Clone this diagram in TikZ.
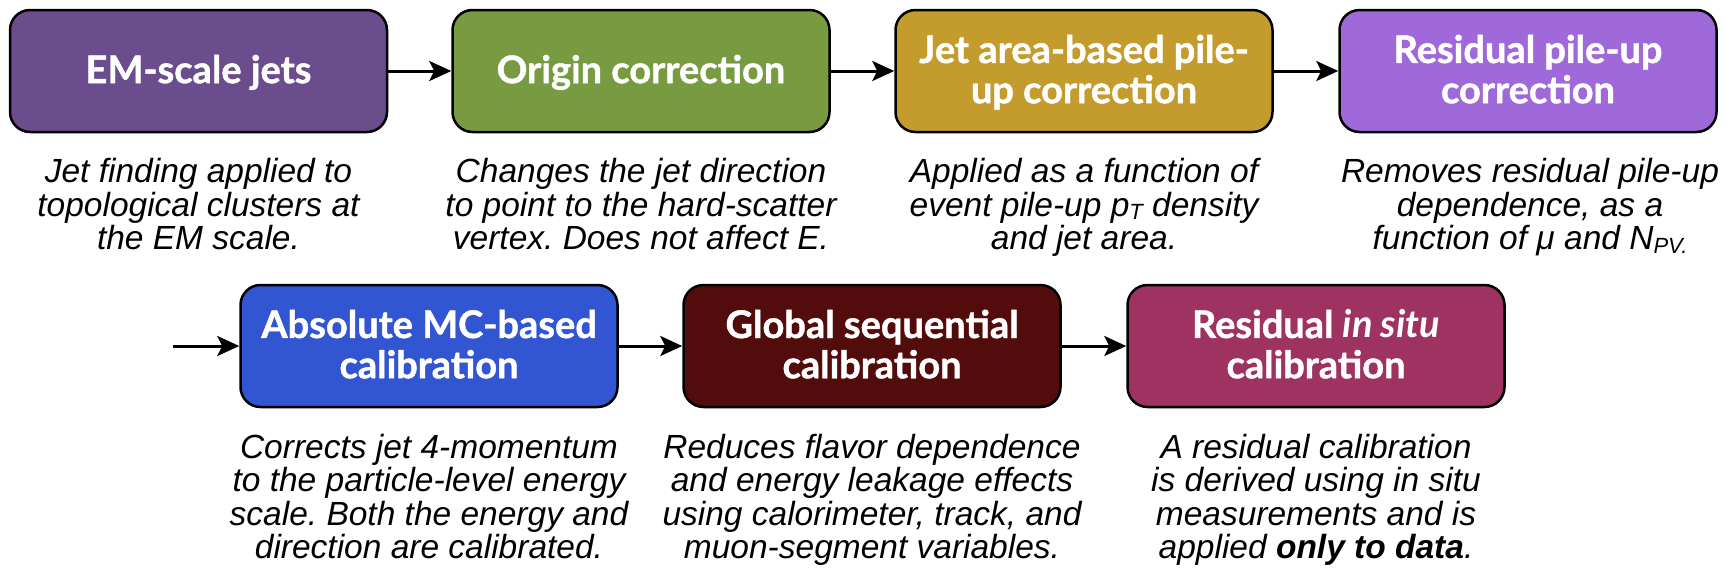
\documentclass[tikz,border=0pt]{standalone}
\usepackage{fontspec}
\setmainfont{Liberation Sans}
\newfontfamily\titlefont{Lato}[BoldFeatures={FakeBold=1.2}]
\usetikzlibrary{arrows.meta}
\definecolor{emcol}{RGB}{107,76,140}
\definecolor{origcol}{RGB}{120,155,65}
\definecolor{jetcol}{RGB}{196,155,45}
\definecolor{respucol}{RGB}{160,105,218}
\definecolor{abscol}{RGB}{50,85,210}
\definecolor{globcol}{RGB}{82,12,12}
\definecolor{insitucol}{RGB}{158,50,96}
\newcommand\ttl[1]{\raisebox{-4pt}[\height][\depth]{\begin{tabular}{@{}c@{}}#1\end{tabular}}}
\newcommand\lowsub[1]{\raisebox{-3.5pt}[0pt][0pt]{\fontsize{22}{22}\selectfont #1}}
\begin{document}
\frenchspacing
\begin{tikzpicture}[x=1pt,y=-1pt,
  stage/.style={draw=black, line width=2.5pt, rounded corners=20pt,
    minimum width=377pt, minimum height=122pt, inner sep=0pt,
    text=white, font=\titlefont\bfseries\fontsize{38}{40}\selectfont},
  desc/.style={anchor=north, inner sep=0pt, align=center,
    font=\itshape\fontsize{33.5}{33.5}\selectfont},
  flow/.style={line width=3pt, -{Stealth[length=22pt,width=20pt,inset=5pt]}}]
\useasboundingbox (0,0) rectangle (1726,573);
% row 1
\node[stage, fill=emcol]    (em)   at (198.5,71) {\ttl{EM-scale jets}};
\node[stage, fill=origcol]  (orig) at (641,71)   {\ttl{Origin correction}};
\node[stage, fill=jetcol]   (jet)  at (1084,71)  {\ttl{Jet area-based pile-\\up correction}};
\node[stage, fill=respucol] (respu) at (1528,71) {\ttl{Residual pile-up\\correction}};
% row 2
\node[stage, fill=abscol]    (abs)  at (429,346)  {\ttl{Absolute MC-based\\calibration}};
\node[stage, fill=globcol]   (glob) at (872,346)  {\ttl{Global sequential\\calibration}};
\node[stage, fill=insitucol] (insitu) at (1316,346) {\ttl{Residual \textit{in situ}\\calibration}};
\coordinate (in) at (173,346);
% descriptions
\node[desc] (d1) at (198.5,158.5) {Jet finding applied to\\topological clusters at\\the EM scale.};
\node[desc] (d2) at (641,158.5) {Changes the jet direction\\to point to the hard-scatter\\vertex. Does not affect E.};
\node[desc] (d3) at (1084,158.5) {Applied as a function of\\event pile-up p\lowsub{T} density\\and jet area.};
\node[desc] (d4) at (1530,158.5) {Removes residual pile-up\\dependence, as a\\function of μ and N\lowsub{PV.}};
\node[desc] (d5) at (429,434) {Corrects jet 4-momentum\\to the particle-level energy\\scale. Both the energy and\\direction are calibrated.};
\node[desc] (d6) at (872,434) {Reduces flavor dependence\\and energy leakage effects\\using calorimeter, track, and\\muon-segment variables.};
\node[desc] (d7) at (1316,434) {A residual calibration\\is derived using in situ\\measurements and is\\applied \textbf{only to data}.};
% arrows
\draw[flow] (em) -- (orig);
\draw[flow] (orig) -- (jet);
\draw[flow] (jet) -- (respu);
\draw[flow] (in) -- (abs);
\draw[flow] (abs) -- (glob);
\draw[flow] (glob) -- (insitu);
\end{tikzpicture}
\end{document}
